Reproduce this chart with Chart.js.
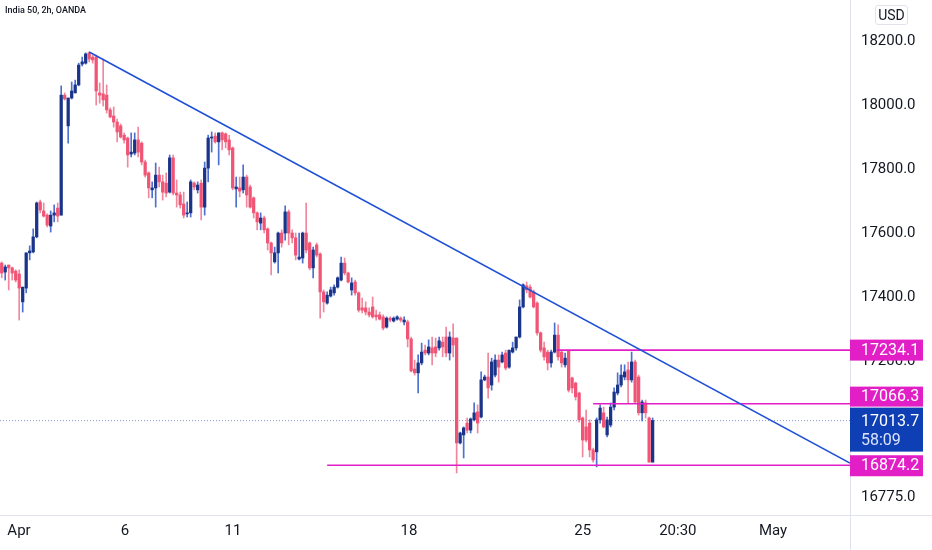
<!DOCTYPE html>
<html><head><meta charset="utf-8">
<script src="https://cdn.jsdelivr.net/npm/chart.js@4.4.1/dist/chart.umd.min.js"></script>
<style>
html,body{margin:0;padding:0;background:#fff;}
#wrap{position:relative;width:932px;height:550px;overflow:hidden;}
canvas{display:block;}
#title{position:absolute;left:5px;top:5px;font:500 9px Roboto, sans-serif;color:#131722;white-space:nowrap;}
#usd{position:absolute;left:875px;top:5px;width:31px;height:18px;border:1px solid #e0e3eb;border-radius:3px;font:14px Roboto, sans-serif;color:#131722;text-align:center;line-height:18px;}
</style></head>
<body><div id="wrap"><canvas id="c" width="932" height="550"></canvas><div id="title">India 50, 2h, OANDA</div><div id="usd">USD</div></div>
<script>
// 2h candles, India 50 (OANDA), Mar 31 – Apr 29
const opens = [
17506,17478,17500,17491,17481,17472,17385,17428,17538,17541,
17588,17697,17669,17656,17622,17656,17678,17656,18031,17935,
18022,18038,18063,18128,18131,18163,18150,18150,18038,18035,
18031,17985,17966,17947,17935,17906,17897,17847,17850,17891,
17881,17822,17788,17735,17741,17781,17760,17756,17728,17835,
17725,17719,17691,17660,17663,17756,17735,17756,17681,17803,
17897,17903,17885,17913,17910,17891,17866,17738,17741,17735,
17775,17744,17710,17663,17631,17647,17613,17569,17510,17538,
17600,17600,17666,17600,17585,17519,17522,17600,17569,17491,
17563,17535,17416,17381,17403,17413,17431,17453,17506,17475,
17422,17447,17413,17366,17366,17353,17369,17344,17344,17338,
17306,17334,17325,17331,17334,17322,17322,17269,17175,17163,
17194,17234,17225,17241,17244,17241,17259,17275,17225,17272,
17272,16944,16969,17006,16984,17016,17041,17025,17141,17150,
17125,17156,17203,17197,17225,17181,17228,17241,17275,17369,
17435,17431,17416,17381,17288,17241,17228,17194,17228,17281,
17228,17188,17234,17147,17131,17100,17022,16994,17006,16922,
16916,17016,17038,16969,17000,17056,17100,17125,17150,17172,
17141,17197,17150,17038,17069,17022,16884];
const highs = [
17510,17500,17500,17494,17485,17485,17431,17538,17560,17613,
17697,17703,17694,17660,17669,17688,17694,18060,18038,18022,
18072,18078,18131,18150,18163,18166,18156,18156,18069,18144,
18063,17991,17994,17956,17941,17913,17900,17913,17913,17931,
17885,17828,17791,17760,17819,17806,17781,17788,17844,17844,
17766,17728,17728,17697,17766,17760,17760,17766,17822,17906,
17916,17913,17913,17916,17913,17906,17869,17775,17775,17813,
17781,17750,17713,17666,17663,17653,17616,17572,17556,17603,
17610,17685,17672,17610,17600,17600,17603,17694,17572,17556,
17569,17538,17422,17416,17431,17438,17463,17525,17522,17478,
17460,17453,17416,17397,17385,17366,17400,17359,17353,17344,
17338,17338,17338,17341,17338,17338,17328,17275,17203,17219,
17256,17250,17266,17275,17272,17275,17275,17306,17291,17316,
17272,16978,16994,17022,17022,17069,17063,17166,17156,17225,
17209,17219,17219,17228,17234,17234,17259,17275,17391,17441,
17447,17438,17422,17385,17291,17259,17234,17234,17319,17313,
17234,17225,17234,17150,17134,17103,17025,17047,17016,16928,
17022,17063,17056,17025,17069,17116,17163,17188,17188,17197,
17228,17203,17156,17078,17078,17025,17022];
const lows = [
17460,17453,17422,17453,17447,17328,17353,17413,17516,17538,
17585,17663,17650,17619,17603,17635,17635,17656,18016,17881,
18019,18038,18060,18122,18128,18135,18131,18000,18006,17997,
17975,17960,17931,17885,17897,17881,17806,17838,17844,17838,
17813,17775,17710,17710,17681,17744,17703,17713,17725,17719,
17681,17678,17647,17650,17650,17735,17725,17641,17656,17760,
17853,17881,17813,17860,17866,17844,17735,17681,17713,17725,
17681,17678,17647,17610,17610,17600,17547,17469,17506,17475,
17556,17578,17563,17569,17516,17516,17506,17538,17485,17460,
17525,17334,17353,17378,17400,17406,17428,17450,17469,17444,
17406,17406,17353,17350,17344,17338,17334,17328,17328,17297,
17303,17322,17322,17328,17322,17313,17244,17166,17156,17100,
17188,17219,17219,17188,17213,17234,17213,17213,17203,17213,
16850,16941,16897,16975,16975,17013,16975,17022,17138,17084,
17109,17150,17134,17194,17172,17178,17225,17234,17272,17366,
17413,17397,17366,17281,17228,17203,17172,17181,17225,17203,
17181,17181,17103,17100,17078,17009,16900,16947,16900,16884,
16869,17006,16991,16963,16994,17047,17094,17119,17141,17069,
17134,17069,17031,17013,17022,16884,16884];
const closes = [
17475,17494,17491,17475,17453,17428,17431,17538,17544,17588,
17694,17672,17653,17625,17656,17663,17653,18031,18019,18022,
18044,18063,18125,18135,18160,18144,18141,18044,18031,18016,
17985,17963,17947,17916,17900,17891,17844,17853,17891,17853,
17822,17781,17741,17741,17781,17760,17728,17725,17835,17725,
17719,17688,17656,17663,17760,17744,17750,17681,17803,17897,
17900,17885,17913,17891,17885,17860,17741,17744,17731,17775,
17719,17681,17663,17635,17647,17610,17569,17538,17538,17600,
17569,17666,17600,17585,17531,17525,17600,17547,17491,17547,
17531,17416,17385,17406,17422,17431,17460,17506,17475,17447,
17444,17413,17359,17359,17353,17344,17338,17338,17331,17303,
17334,17328,17334,17338,17328,17328,17269,17169,17163,17194,
17228,17225,17244,17225,17225,17263,17244,17225,17275,17250,
16944,16975,16991,16984,17019,17038,17006,17141,17150,17116,
17197,17203,17181,17219,17178,17234,17241,17275,17369,17438,
17422,17400,17369,17288,17234,17213,17194,17228,17281,17213,
17194,17209,17109,17116,17088,17016,16953,16953,16922,16891,
17016,17053,16994,17016,17056,17103,17125,17156,17166,17141,
17197,17072,17038,17072,17038,16884,17014];

// price axis ticks
const yTickValues = [18200, 18000, 17800, 17600, 17400, 17200, 17000, 16775];
// time axis labels (bar index where each label sits)
const xTickLabels = ["Apr", "6", "11", "18", "25", "20:30", "May"];
const xTickIndex = [4.94, 35.2, 66.1, 116.4, 166, 193.2, 220.4];

// drawings
const trendStart = {x: 25, y: 18166};
const trendEnd = {x: 242.4, y: 16881};
const levelValues = [17234.1, 17066.3, 16874.2];
const levelStartIndex = [158.6, 169, 93];
const lastPrice = 17013.7;
const countdown = "58:09";

const X_MIN = -0.486, X_MAX = 242.4;
const Y_MIN = 16718.7, Y_MAX = 18328.4;

const UP = '#1a3489', DOWN = '#f05575', UP_W = '#4d6fcf', DOWN_W = '#f0879d';
const MAGENTA = '#e21fc7', PRICEBLUE = '#0e3fb5';

const up = opens.map((o, i) => closes[i] >= o);
const bodies = opens.map((o, i) => ({x: i, y: [o, closes[i]]}));
const wicks = opens.map((o, i) => ({x: i, y: [lows[i], highs[i]]}));

const datasets = [
  {type: 'line', data: [trendStart, trendEnd], borderColor: '#1f50d6', borderWidth: 1.6, pointRadius: 0, order: 0},
  {type: 'line', data: [{x: X_MIN, y: lastPrice}, {x: X_MAX, y: lastPrice}], borderColor: '#8797c9', borderWidth: 1, borderDash: [1, 2], pointRadius: 0, order: 3}
];
levelValues.forEach((v, k) => {
  datasets.push({type: 'line', data: [{x: levelStartIndex[k], y: v}, {x: X_MAX, y: v}], borderColor: MAGENTA, borderWidth: 1.6, pointRadius: 0, order: 0});
});
datasets.push({type: 'bar', data: bodies, backgroundColor: up.map(u => u ? UP : DOWN), barThickness: 2.6, minBarLength: 1, grouped: false, order: 1});
datasets.push({type: 'bar', data: wicks, backgroundColor: up.map(u => u ? UP_W : DOWN_W), barThickness: 1, grouped: false, order: 2});

const overlay = {
  id: 'overlay',
  afterDraw(chart) {
    const {ctx, chartArea, scales: {y}} = chart;
    const L = chartArea.right, W = 73;
    ctx.save();
    ctx.strokeStyle = '#e0e3eb'; ctx.lineWidth = 1;
    ctx.beginPath(); ctx.moveTo(L + 0.5, 0); ctx.lineTo(L + 0.5, 550); ctx.stroke();
    ctx.beginPath(); ctx.moveTo(0, chartArea.bottom + 0.5); ctx.lineTo(932, chartArea.bottom + 0.5); ctx.stroke();
    ctx.font = '16px Roboto, sans-serif';
    ctx.textBaseline = 'middle'; ctx.textAlign = 'left';
    function box(top, h, color, lines) {
      ctx.fillStyle = color;
      ctx.fillRect(L, top, W, h);
      lines.forEach(([t, yy, c]) => { ctx.fillStyle = c; ctx.fillText(t, L + 11, yy); });
    }
    const yLast = y.getPixelForValue(lastPrice);
    const blueTop = yLast - 13;
    box(blueTop, 44, PRICEBLUE, [[lastPrice.toFixed(1), yLast + 1, '#ffffff'], [countdown, yLast + 20, '#dce4fb']]);
    const y0 = y.getPixelForValue(levelValues[0]);
    box(y0 - 10.5, 21, MAGENTA, [[levelValues[0].toFixed(1), y0 + 0.5, '#ffffff']]);
    box(blueTop - 21, 20, MAGENTA, [[levelValues[1].toFixed(1), blueTop - 10.5, '#ffffff']]);
    const y2 = y.getPixelForValue(levelValues[2]);
    box(y2 - 10, 21, MAGENTA, [[levelValues[2].toFixed(1), y2 + 0.5, '#ffffff']]);
    ctx.restore();
  }
};

new Chart(document.getElementById('c'), {
  type: 'bar',
  data: {datasets},
  options: {
    responsive: false,
    animation: false,
    layout: {padding: 0},
    plugins: {legend: {display: false}, tooltip: {enabled: false}},
    scales: {
      x: {
        type: 'linear', min: X_MIN, max: X_MAX, offset: false,
        grid: {display: false, drawTicks: false, tickLength: 0},
        border: {display: false},
        ticks: {autoSkip: false, maxRotation: 0, padding: 7, color: '#131722', font: {family: 'Roboto', size: 15},
          callback: (v, i) => xTickLabels[i]},
        afterBuildTicks: s => { s.ticks = xTickIndex.map(v => ({value: v})); },
        afterFit: s => { s.height = 35; s.paddingLeft = 0; s.paddingRight = 0; }
      },
      y: {
        position: 'right', min: Y_MIN, max: Y_MAX,
        grid: {display: false, drawTicks: false, tickLength: 0},
        border: {display: false},
        ticks: {padding: 11, color: '#131722', font: {family: 'Roboto', size: 15},
          callback: v => Number(v).toFixed(1)},
        afterBuildTicks: s => { s.ticks = yTickValues.map(v => ({value: v})); },
        afterFit: s => { s.width = 82; s.paddingTop = 0; s.paddingBottom = 0; }
      }
    }
  },
  plugins: [overlay]
});
</script></body></html>
